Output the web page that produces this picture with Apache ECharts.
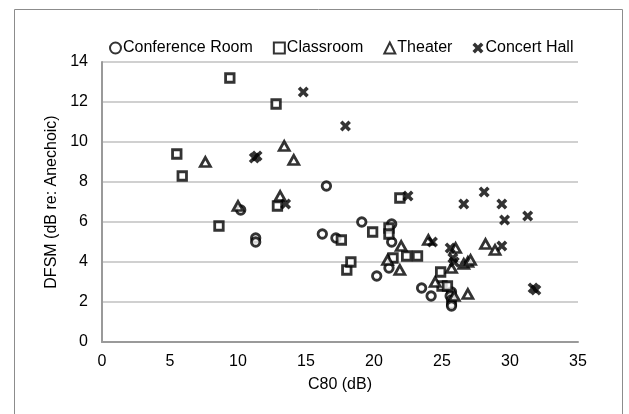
<!DOCTYPE html>
<html>
<head>
<meta charset="utf-8">
<script src="https://cdn.jsdelivr.net/npm/echarts@6/dist/echarts.min.js"></script>
<style>
html,body{margin:0;padding:0;background:#fff;}
#chart{width:629px;height:414px;}
</style>
</head>
<body>
<div id="chart"></div>
<script>
const seriesNames = ['Conference Room', 'Classroom', 'Theater', 'Concert Hall'];
const xTicks = [0, 5, 10, 15, 20, 25, 30, 35];
const yTicks = [0, 2, 4, 6, 8, 10, 12, 14];

const conferenceRoom = [
  [10.2, 6.6], [11.3, 5.2], [11.3, 5.0], [16.5, 7.8], [16.2, 5.4], [17.2, 5.2],
  [19.1, 6.0], [20.2, 3.3], [21.3, 5.9], [21.3, 5.0], [21.1, 3.7], [23.5, 2.7],
  [24.2, 2.3], [25.7, 2.5], [25.6, 2.3], [25.7, 2.1], [25.7, 1.9], [25.7, 1.8]
];
const classroom = [
  [5.5, 9.4], [5.9, 8.3], [9.4, 13.2], [8.6, 5.8], [12.8, 11.9], [12.9, 6.8],
  [17.6, 5.1], [18.0, 3.6], [18.3, 4.0], [19.9, 5.5], [21.1, 5.7], [21.1, 5.4],
  [21.4, 4.2], [21.9, 7.2], [22.4, 4.3], [23.2, 4.3], [24.9, 3.5], [25.0, 2.8],
  [25.4, 2.8]
];
const theater = [
  [7.6, 9.0], [10.0, 6.8], [13.1, 7.3], [13.4, 9.8], [14.1, 9.1], [21.0, 4.1],
  [22.0, 4.8], [21.9, 3.6], [24.0, 5.1], [24.5, 3.0], [25.7, 3.7], [26.0, 4.7],
  [25.9, 2.3], [26.9, 2.4], [26.6, 3.9], [26.9, 4.0], [27.1, 4.1], [28.2, 4.9],
  [28.9, 4.6]
];
const concertHall = [
  [14.8, 12.5], [17.9, 10.8], [11.2, 9.2], [11.4, 9.3], [13.5, 6.9], [22.5, 7.3],
  [24.3, 5.0], [26.6, 6.9], [28.1, 7.5], [29.4, 6.9], [29.6, 6.1], [31.3, 6.3],
  [29.4, 4.8], [31.7, 2.7], [31.9, 2.6], [25.6, 4.7], [25.8, 4.2], [25.9, 4.0]
];

const xPath = 'path://M0,2.3 L2.3,0 L5,2.7 L7.7,0 L10,2.3 L7.3,5 L10,7.7 L7.7,10 L5,7.3 L2.3,10 L0,7.7 L2.7,5 Z';
const font = '"Liberation Sans", Arial, sans-serif';

const chart = echarts.init(document.getElementById('chart'), null, {renderer: 'canvas'});
const hollow = {color: '#fff', borderColor: '#000', borderWidth: 2.8};
chart.setOption({
  animation: false,
  backgroundColor: '#fff',
  textStyle: {fontFamily: font},
  graphic: [{
    type: 'rect', left: 12, top: 7,
    shape: {width: 608, height: 406},
    style: {fill: 'none', stroke: '#8c8c8c', lineWidth: 1}
  }],
  legend: {
    left: 104, top: 35,
    itemWidth: 11, itemHeight: 11, itemGap: 20,
    textStyle: {fontFamily: font, fontSize: 16, color: '#000', padding: [0, 0, 0, -3]},
    data: seriesNames
  },
  grid: {left: 102, right: 51, top: 62, bottom: 72, containLabel: false},
  xAxis: {
    type: 'value', min: xTicks[0], max: xTicks[xTicks.length - 1], interval: 5,
    name: 'C80 (dB)', nameLocation: 'middle', nameGap: 35,
    nameTextStyle: {fontFamily: font, fontSize: 16, color: '#000'},
    axisLine: {show: true, lineStyle: {color: '#9a9a9a', width: 2}},
    axisTick: {show: false},
    splitLine: {show: false},
    axisLabel: {fontFamily: font, fontSize: 16, color: '#000', margin: 12}
  },
  yAxis: {
    type: 'value', min: yTicks[0], max: yTicks[yTicks.length - 1], interval: 2,
    name: 'DFSM (dB re: Anechoic)', nameLocation: 'middle', nameGap: 40,
    nameTextStyle: {fontFamily: font, fontSize: 16, color: '#000'},
    axisLine: {show: true, lineStyle: {color: '#9a9a9a', width: 2}},
    axisTick: {show: false},
    splitLine: {show: true, lineStyle: {color: '#c0c0c0', width: 1.6}},
    axisLabel: {fontFamily: font, fontSize: 16, color: '#000', margin: 14}
  },
  series: [
    {name: seriesNames[0], type: 'scatter', data: conferenceRoom, symbol: 'circle', symbolSize: 8.5, itemStyle: hollow},
    {name: seriesNames[1], type: 'scatter', data: classroom, symbol: 'rect', symbolSize: 8.5, itemStyle: hollow},
    {name: seriesNames[2], type: 'scatter', data: theater, symbol: 'triangle', symbolSize: [10, 9], itemStyle: hollow},
    {name: seriesNames[3], type: 'scatter', data: concertHall, symbol: xPath, symbolSize: 11, itemStyle: {color: '#000'}}
  ]
});
</script>
</body>
</html>
